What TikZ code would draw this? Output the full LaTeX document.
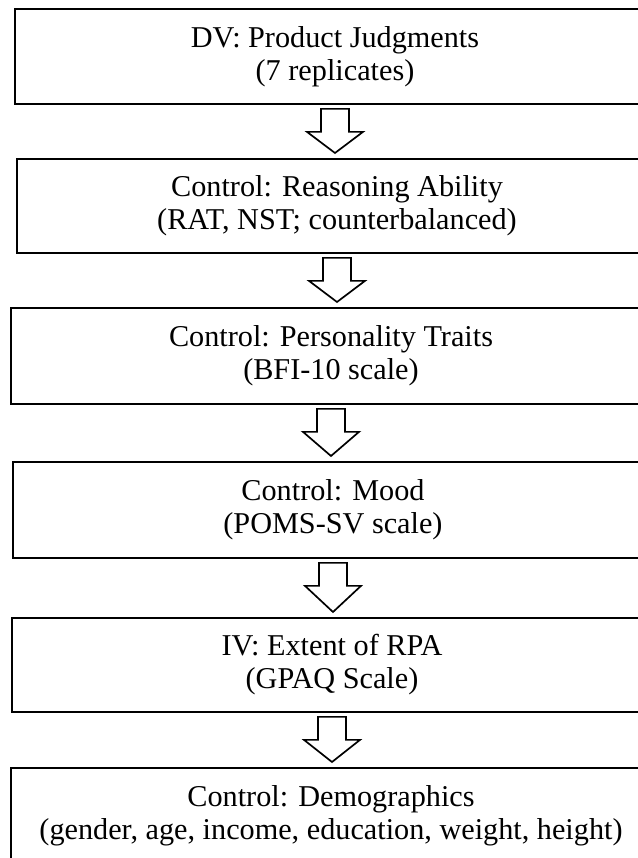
\documentclass[tikz,border=0pt]{standalone}
\usepackage{fontspec}
\setmainfont{Liberation Serif}
\usetikzlibrary{calc}
\tikzset{
  stage/.style={draw, line width=1.3pt, anchor=north west, minimum width=16cm,
    align=center, inner sep=0pt, font=\fontsize{21.5}{23.5}\selectfont},
  blockarr/.style={draw, line width=1.2pt, fill=white, line join=miter}
}
\begin{document}
\begin{tikzpicture}[x=0.025cm,y=-0.025cm]
  \clip (0,0) rectangle (638,858);
  \useasboundingbox (0,0) rectangle (638,858);
  \node[stage, minimum height=2.375cm] (dv) at (14,8) {DV: Product Judgments\\(7 replicates)};
  \node[stage, minimum height=2.35cm] (ra) at (16,158) {Control: Reasoning Ability\\(RAT, NST; counterbalanced)};
  \node[stage, minimum height=2.4cm] (pt) at (10,307) {Control: Personality Traits\\(BFI-10 scale)};
  \node[stage, minimum height=2.4cm] (md) at (12,461) {Control: Mood\\(POMS-SV scale)};
  \node[stage, minimum height=2.35cm] (iv) at (11,617) {IV: Extent of RPA\\(GPAQ Scale)};
  \node[stage, minimum height=2.375cm] (dm) at (10,767) {Control: Demographics\\(gender, age, income, education, weight, height)};
  % hollow block arrows between the stages
  \foreach \a/\b in {dv/ra, ra/pt, pt/md, md/iv, iv/dm}
    \draw[blockarr] let \p1=(\a.south), \p2=(\b.north) in
      (\x1-0.35cm,\y1-0.1cm) -- (\x1+0.35cm,\y1-0.1cm) -- (\x1+0.35cm,\y1-0.675cm)
      -- (\x1+0.7cm,\y1-0.675cm) -- (\x1,\y2+0.125cm) -- (\x1-0.7cm,\y1-0.675cm)
      -- (\x1-0.35cm,\y1-0.675cm) -- cycle;
\end{tikzpicture}
\end{document}
